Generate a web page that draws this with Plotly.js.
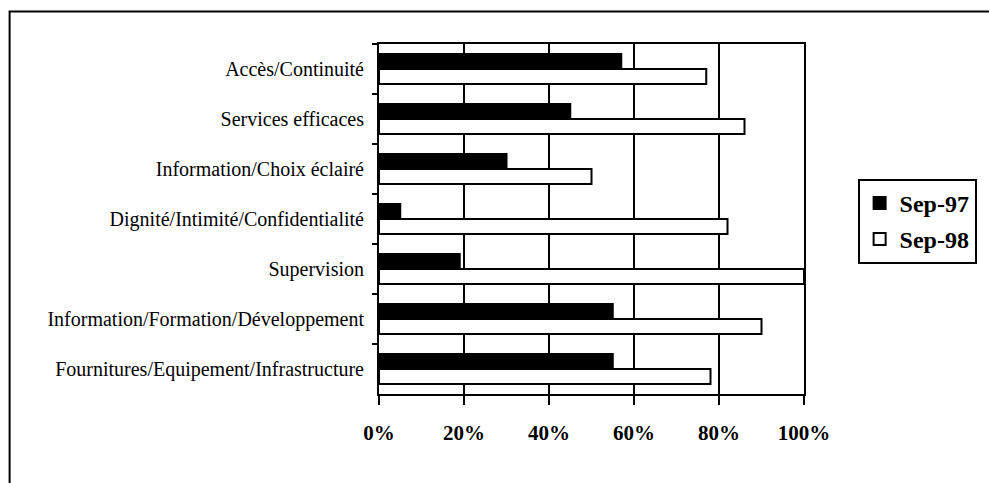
<!DOCTYPE html>
<html>
<head>
<meta charset="utf-8">
<script src="https://cdn.plot.ly/plotly-3.0.1.min.js"></script>
<style>
  html, body { margin: 0; padding: 0; background: #fff; }
  #chart { width: 989px; height: 483px; }
</style>
</head>
<body>
<div id="chart"></div>
<script>
// Categories, top to bottom
const categories = [
  "Accès/Continuité",
  "Services efficaces",
  "Information/Choix éclairé",
  "Dignité/Intimité/Confidentialité",
  "Supervision",
  "Information/Formation/Développement",
  "Fournitures/Equipement/Infrastructure"
];
// Values in percent
const sep97 = [57, 45, 30, 5, 19, 55, 55];
const sep98 = [77, 86, 50, 82, 100, 90, 78];
const seriesNames = ["Sep-97", "Sep-98"];
const xTickVals = [0, 20, 40, 60, 80, 100];
const xTickText = ["0%", "20%", "40%", "60%", "80%", "100%"];

const serif = "'Liberation Serif', 'Times New Roman', serif";

const traces = [
  {
    type: "bar", orientation: "h", name: seriesNames[0],
    y: categories, x: sep97, legendgroup: "a",
    marker: { color: "#000000", line: { color: "#000000", width: 2 } },
    hoverinfo: "skip"
  },
  {
    type: "bar", orientation: "h", name: seriesNames[1],
    y: categories, x: sep98, legendgroup: "b",
    marker: { color: "#ffffff", line: { color: "#000000", width: 2 } },
    hoverinfo: "skip"
  }
];

const W = 989, H = 483;
const L = 379, R = 182, T = 44, B = 88.5;
const pw = W - L - R, ph = H - T - B;
const px2x = p => (p - L) / pw;
const px2y = p => 1 - (p - T) / ph;

const layout = {
  width: W, height: H,
  margin: { l: L, r: R, t: T, b: B, pad: 0 },
  paper_bgcolor: "#ffffff",
  plot_bgcolor: "#ffffff",
  barmode: "group",
  bargap: 0.4,
  bargroupgap: 0,
  font: { family: serif, color: "#000000" },
  xaxis: {
    range: [0, 100],
    tickvals: xTickVals, ticktext: xTickText,
    showgrid: true, gridcolor: "#000000", gridwidth: 2,
    zeroline: false,
    showline: true, linecolor: "#000000", linewidth: 2, mirror: true,
    ticks: "outside", ticklen: 9, tickwidth: 2, tickcolor: "#000000",
    tickfont: { family: serif, size: 21, weight: "bold", color: "#000000" },
    ticklabelstandoff: 10,
    fixedrange: true
  },
  yaxis: {
    type: "category",
    categoryorder: "array", categoryarray: categories,
    autorange: "reversed",
    showgrid: false, zeroline: false,
    showline: true, linecolor: "#000000", linewidth: 2, mirror: true,
    ticks: "outside", ticklen: 5, tickwidth: 2, tickcolor: "#000000",
    tickson: "boundaries",
    tickfont: { family: serif, size: 20, color: "#000000" },
    ticklabelstandoff: 9,
    fixedrange: true
  },
  showlegend: true,
  legend: {
    x: px2x(861), y: px2y(179), xanchor: "left", yanchor: "top",
    bgcolor: "#ffffff", bordercolor: "#000000", borderwidth: 2,
    font: { family: serif, size: 24, weight: "bold", color: "#000000" },
    traceorder: "grouped", tracegroupgap: 2,
    itemwidth: 30
  },
  shapes: [
    {
      type: "rect", xref: "paper", yref: "paper",
      x0: px2x(7), x1: px2x(1010), y0: px2y(11.5), y1: px2y(520),
      line: { color: "#000000", width: 2 }, fillcolor: "rgba(0,0,0,0)"
    }
  ]
};

Plotly.newPlot("chart", traces, layout, { displayModeBar: false, staticPlot: true });
</script>
</body>
</html>
